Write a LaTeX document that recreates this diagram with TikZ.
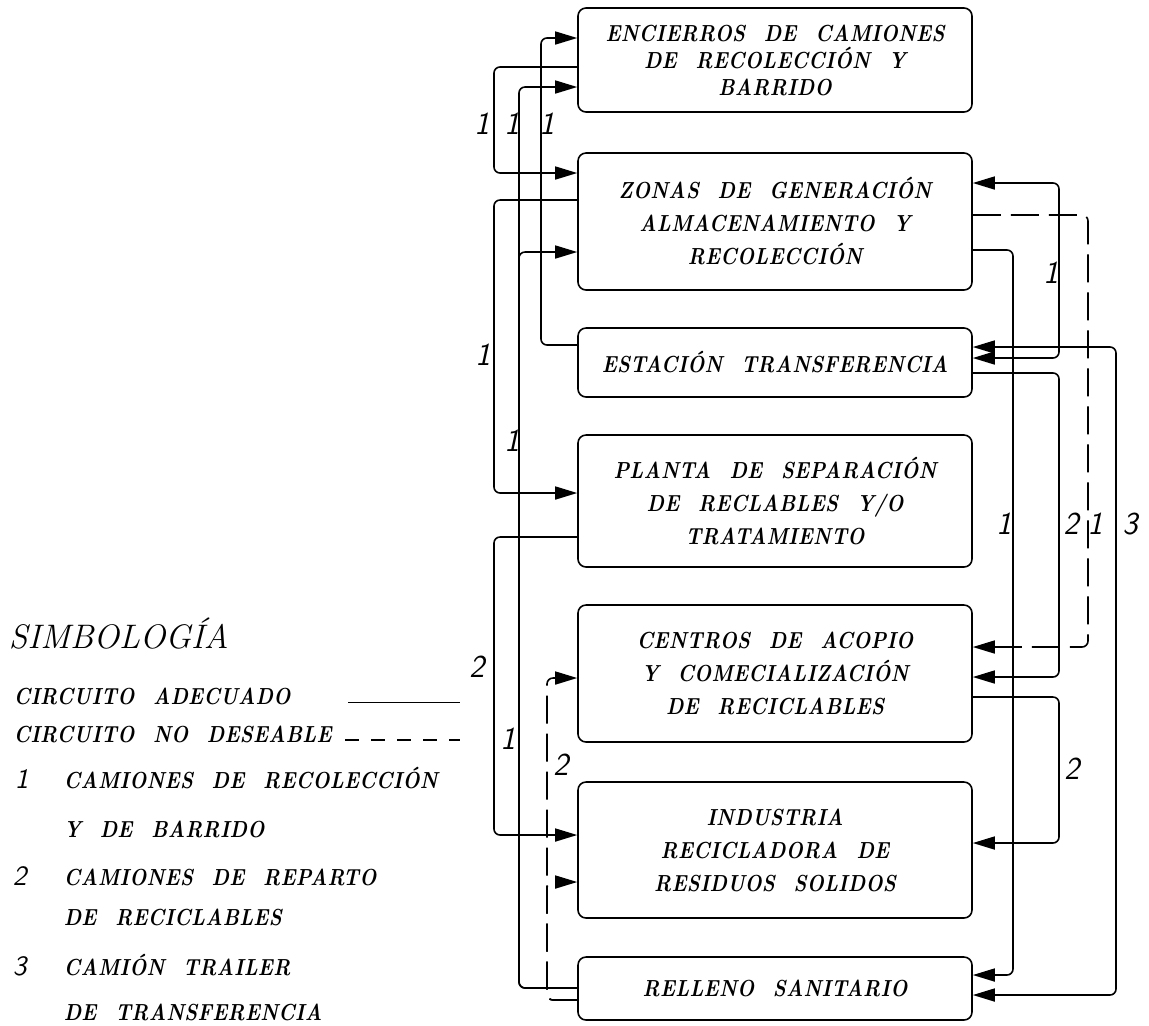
\documentclass[tikz,border=0pt]{standalone}
\usepackage{fontspec}
\newfontfamily\cajafont[LetterSpace=1,WordSpace=2.2,FakeStretch=0.86]{Latin Modern Roman}
\usetikzlibrary{arrows.meta}

\tikzset{
  caja/.style={draw, rounded corners=4pt, minimum width=197pt, align=center,
    font=\cajafont\bfseries\itshape\fontsize{11.6}{16.5}\selectfont},
  linea/.style={rounded corners=3pt},
  nodeseable/.style={linea, dash pattern=on 14pt off 5pt},
  etiq/.style={inner sep=0pt, font=\sffamily\itshape\fontsize{16}{16}\selectfont},
  ley/.style={anchor=base west, inner sep=0pt, font=\cajafont\bfseries\itshape\fontsize{11.6}{12}\selectfont},
  leynum/.style={anchor=base west, inner sep=0pt, font=\sffamily\itshape\fontsize{14}{14}\selectfont},
}

\begin{document}
\begin{tikzpicture}[x=0.5pt, y=-0.5pt, line width=0.8pt, >={Triangle[length=11pt,width=6.5pt]}]
\useasboundingbox (0,0) rectangle (1149,1025);

% cajas
\node[caja, minimum height=52pt, font=\cajafont\bfseries\itshape\fontsize{11.6}{13.5}\selectfont] (enc) at (775,60) {ENCIERROS DE CAMIONES\\DE RECOLECCIÓN Y\\BARRIDO};
\node[caja, minimum height=68.5pt] (zon) at (775,221.5) {ZONAS DE GENERACIÓN\\ALMACENAMIENTO Y\\RECOLECCIÓN};
\node[caja, minimum height=34.5pt] (est) at (775,362.5) {ESTACIÓN TRANSFERENCIA};
\node[caja, minimum height=66pt] (pla) at (775,501) {PLANTA DE SEPARACIÓN\\DE RECLABLES Y/O\\TRATAMIENTO};
\node[caja, minimum height=68.5pt] (cen) at (775,673.5) {CENTROS DE ACOPIO\\Y COMECIALIZACIÓN\\DE RECICLABLES};
\node[caja, minimum height=68pt] (ind) at (775,850) {INDUSTRIA\\RECICLADORA DE\\RESIDUOS SOLIDOS};
\node[caja, minimum height=31.5pt] (rel) at (775,988.5) {RELLENO SANITARIO};

% circuitos lado izquierdo
\draw[linea,->] (enc.west |- 0,67) -| (494,173) -- (zon.west |- 0,173);
\draw[linea,->] (est.west |- 0,345) -| (541,38) -- (enc.west |- 0,38);
\draw[linea,->] (zon.west |- 0,200) -| (494,493) -- (pla.west |- 0,493);
\draw[linea,->] (pla.west |- 0,537) -| (494,835) -- (ind.west |- 0,835);
\draw[linea,->] (rel.west |- 0,988) -| (519,87) -- (enc.west |- 0,87);
\draw[linea,->] (rel.west |- 0,988) -| (519,252) -- (zon.west |- 0,252);
\draw[nodeseable,->] (rel.west |- 0,1000) -| (547,678) -- (cen.west |- 0,678);
\draw[nodeseable,->] (rel.west |- 0,1000) -| (547,882) -- (ind.west |- 0,882);

% circuitos lado derecho
\draw[linea,<->] (zon.east |- 0,183) -| (1059,358) -- (est.east |- 0,358);
\draw[nodeseable,->] (zon.east |- 0,215) -| (1088,647) -- (cen.east |- 0,647);
\draw[linea,->] (zon.east |- 0,250) -| (1013,975) -- (rel.east |- 0,975);
\draw[linea,<->] (est.east |- 0,347) -| (1116,995) -- (rel.east |- 0,995);
\draw[linea,->] (est.east |- 0,373) -| (1059,677) -- (cen.east |- 0,677);
\draw[linea,->] (cen.east |- 0,697) -| (1059,843) -- (ind.east |- 0,843);

% numeros de camion
\foreach \x/\y/\t [count=\i] in {482/124/1, 512/124/1, 547/124/1, 483/355/1, 512/441/1,
    508/739/1, 477/667/2, 561/765/2, 1051/273/1, 1004/524/1, 1071/524/2, 1095/524/1,
    1130/524/3, 1072/769/2}
  \node[etiq] (num\i) at (\x,\y) {\t};

% simbologia
\node[anchor=base west, inner sep=0pt, font=\itshape\fontsize{17}{17}\selectfont] (simb) at (8,648) {SIMBOLOGÍA};
\node[ley] (adec) at (13,704) {CIRCUITO ADECUADO};
\node[ley] (nodes) at (13,742) {CIRCUITO NO DESEABLE};
\draw[line width=0.5pt] (348,702) -- (460,702);
\draw[line width=0.6pt, dash pattern=on 7pt off 6pt] (345,740) -- (460,740);
\node[leynum] (ley1) at (14,788) {1};
\node[ley] (cam1) at (63,788) {CAMIONES DE RECOLECCIÓN};
\node[ley] (cam1b) at (63,837) {Y DE BARRIDO};
\node[leynum] (ley2) at (12,885) {2};
\node[ley] (cam2) at (63,885) {CAMIONES DE REPARTO};
\node[ley] (cam2b) at (63,925) {DE RECICLABLES};
\node[leynum] (ley3) at (12,975) {3};
\node[ley] (cam3) at (63,975) {CAMIÓN TRAILER};
\node[ley] (cam3b) at (63,1020) {DE TRANSFERENCIA};
\end{tikzpicture}
\end{document}
